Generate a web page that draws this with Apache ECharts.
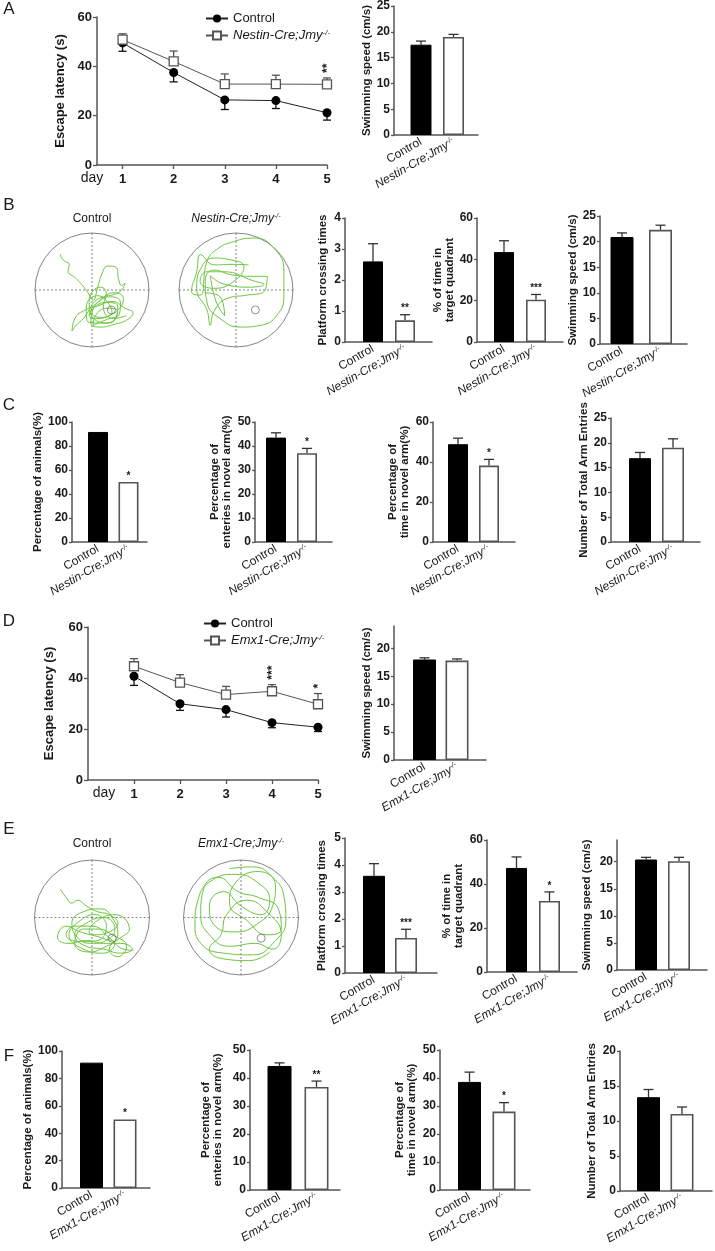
<!DOCTYPE html>
<html>
<head>
<meta charset="utf-8">
<script src="https://cdn.jsdelivr.net/npm/echarts@6/dist/echarts.min.js"></script>
<style>
  html, body { margin: 0; padding: 0; background: #fff; }
  #main { width: 715px; height: 1251px; }
</style>
</head>
<body>
<div id="main"></div>
<script>
// ---- data ----
const days = [1, 2, 3, 4, 5];
const groupNestin = ['Control', 'Nestin-Cre;Jmy'];
const groupEmx1 = ['Control', 'Emx1-Cre;Jmy'];
const speedTicks = [0, 5, 10, 15, 20];

// A
const aLatencyCtrl = [49.5, 37.5, 26.4, 26.1, 21.2];
const aLatencyCtrlSem = [3.4, 3.8, 3.9, 3.2, 3.0];
const aLatencyKo = [50.8, 42.0, 32.8, 32.8, 32.7];
const aLatencyKoSem = [2.4, 4.2, 4.1, 3.6, 2.6];
const aLatencyStars = ['', '', '', '', '**'];
const aSpeed = [17.5, 19.0];
const aSpeedSem = [0.7, 0.5];

// B
const bCrossing = [2.6, 0.7];
const bCrossingSem = [0.57, 0.18];
const bCrossingStars = ['', '**'];
const bQuadrant = [43.5, 20.5];
const bQuadrantSem = [5.5, 2.5];
const bQuadrantStars = ['', '***'];
const bSpeed = [20.9, 22.3];
const bSpeedSem = [0.8, 0.9];
const bTrackCtrl = [[-0.56,0.63],[-0.5,0.52],[-0.4,0.45],[-0.42,0.33],[-0.3,0.22],[-0.2,0.12],[-0.12,0.02],[-0.05,-0.08],[0.02,-0.18],[0.1,0.05],[0.18,0.3],[0.28,0.42],[0.42,0.4],[0.47,0.18],[0.52,0.08],[0.58,0.12],[0.52,0.0],[0.38,-0.08],[0.2,-0.12],[0.05,-0.2],[-0.05,-0.35],[-0.15,-0.5],[-0.28,-0.62],[-0.35,-0.72],[-0.3,-0.5],[-0.12,-0.35],[0.1,-0.28],[0.35,-0.2],[0.58,-0.32],[0.72,-0.4],[0.62,-0.52],[0.4,-0.6],[0.15,-0.65],[-0.02,-0.58],[0.0,-0.4],[0.18,-0.15],[0.4,-0.05],[0.55,-0.15],[0.5,-0.3],[0.3,-0.45],[0.08,-0.5],[-0.05,-0.45],[0.05,-0.3],[0.25,-0.22],[0.45,-0.28],[0.42,-0.48],[0.2,-0.58],[-0.08,-0.55],[-0.1,-0.3],[0.1,-0.1],[0.3,-0.25],[0.35,-0.4],[0.15,-0.48],[-0.02,-0.38],[0.12,-0.2],[0.32,-0.12],[0.5,-0.22],[0.48,-0.42],[0.25,-0.52],[0.02,-0.62],[0.08,-0.42],[0.28,-0.32],[0.45,-0.38],[0.3,-0.58],[0.05,-0.52],[-0.05,-0.2],[0.15,0.05],[0.25,-0.05],[0.2,-0.3],[0.38,-0.5],[0.6,-0.45]];
const bTrackKo = [[0.22,0.44],[-0.05,0.45],[-0.38,0.44],[-0.62,0.62],[-0.69,0.32],[-0.78,-0.03],[-0.63,-0.09],[-0.51,0.5],[-0.34,0.71],[-0.04,0.85],[0.31,0.91],[0.66,0.74],[0.84,0.32],[0.84,-0.09],[0.72,-0.44],[0.43,-0.62],[0.08,-0.65],[-0.28,-0.5],[-0.51,-0.21],[-0.54,0.15],[-0.39,0.35],[-0.04,0.26],[0.31,0.24],[0.55,0.24],[0.49,-0.03],[0.19,-0.09],[-0.16,-0.15],[-0.39,-0.38],[-0.45,-0.62],[-0.51,-0.35],[-0.69,0.03],[-0.6,0.41],[-0.39,0.56],[-0.1,0.53],[0.14,0.41],[-0.04,0.15],[-0.39,0.03],[-0.63,0.15],[-0.51,0.32],[-0.22,0.32],[0.31,0.16],[0.49,0.1],[0.25,0.05],[-0.2,0.1],[-0.45,0.25],[-0.35,-0.2],[-0.2,-0.45],[-0.3,-0.1],[-0.55,-0.05]];
const bPlatform = [[0.34, -0.35]];

// C
const cAnimals = [91.7, 50];
const cAnimalsStars = ['', '*'];
const cEntries = [43.5, 37.0];
const cEntriesSem = [2.0, 2.0];
const cEntriesStars = ['', '*'];
const cTime = [48.9, 38.2];
const cTimeSem = [3.0, 3.1];
const cTimeStars = ['', '*'];
const cTotal = [16.9, 19.0];
const cTotalSem = [1.15, 1.8];

// D
const dLatencyCtrl = [40.7, 29.9, 27.6, 22.5, 20.7];
const dLatencyCtrlSem = [3.6, 2.6, 2.9, 2.0, 1.7];
const dLatencyKo = [44.6, 38.2, 33.5, 34.8, 29.7];
const dLatencyKoSem = [3.0, 3.1, 3.2, 2.6, 4.2];
const dLatencyStars = ['', '', '', '***', '*'];
const dSpeed = [18.0, 17.8];
const dSpeedSem = [0.3, 0.3];

// E
const eCrossing = [3.6, 1.3];
const eCrossingSem = [0.45, 0.32];
const eCrossingStars = ['', '***'];
const eQuadrant = [47.3, 32.3];
const eQuadrantSem = [5.0, 4.1];
const eQuadrantStars = ['', '*'];
const eSpeed = [20.4, 20.1];
const eSpeedSem = [0.4, 0.7];
const eTrackCtrl = [[-0.55,0.49],[-0.45,0.35],[-0.35,0.25],[-0.25,0.3],[-0.1,0.2],[0.1,0.1],[0.3,0.05],[0.45,-0.1],[0.3,-0.25],[0.05,-0.3],[-0.2,-0.25],[-0.45,-0.15],[-0.6,-0.35],[-0.4,-0.45],[-0.1,-0.4],[0.2,-0.45],[0.5,-0.45],[0.7,-0.55],[0.5,-0.62],[0.2,-0.55],[-0.1,-0.5],[-0.3,-0.3],[-0.1,-0.1],[0.2,0.0],[0.4,-0.2],[0.25,-0.4],[0.0,-0.45],[-0.25,-0.35],[-0.35,-0.1],[-0.15,0.1],[0.15,0.15],[0.35,0.0],[0.45,-0.3],[0.3,-0.55],[0.45,-0.68],[0.6,-0.5],[0.35,-0.3],[0.1,-0.2],[-0.15,-0.2],[-0.3,-0.45],[-0.05,-0.6],[0.25,-0.5],[0.5,-0.35],[0.65,-0.2],[0.4,0.05],[0.1,-0.05],[-0.05,-0.25],[0.15,-0.35],[0.4,-0.45],[0.2,-0.62],[-0.15,-0.55],[-0.4,-0.3],[-0.2,-0.05],[0.05,0.05],[0.25,-0.15],[0.1,-0.4],[-0.2,-0.42],[-0.45,-0.3],[-0.3,-0.15],[0.0,-0.15],[0.3,-0.35],[0.55,-0.55],[0.72,-0.57]];
const eTrackKo = [[-0.2,0.85],[0.2,0.88],[0.55,0.7],[0.75,0.35],[0.78,-0.05],[0.6,-0.4],[0.2,-0.65],[-0.3,-0.62],[-0.7,-0.45],[-0.8,-0.1],[-0.75,0.3],[-0.5,0.65],[-0.1,0.75],[0.3,0.6],[0.5,0.3],[0.35,0.05],[0.0,0.2],[-0.3,0.45],[-0.55,0.2],[-0.45,-0.15],[-0.1,-0.25],[0.3,-0.1],[0.55,0.2],[0.6,0.55],[0.3,0.8],[-0.1,0.6],[-0.2,0.25],[0.1,-0.05],[0.45,-0.3],[0.7,-0.2],[0.65,0.15],[0.3,0.35],[-0.05,0.45],[-0.4,0.7],[-0.65,0.5],[-0.7,0.05],[-0.55,-0.3],[-0.2,-0.5],[0.25,-0.45],[0.55,-0.55],[0.7,-0.3],[0.45,0.1],[0.1,0.3],[-0.25,0.05],[-0.35,-0.3],[-0.55,-0.55],[-0.3,-0.72],[0.15,-0.75],[0.5,-0.6]];
const ePlatform = [[0.35, -0.36]];

// F
const fAnimals = [91.5, 50];
const fAnimalsStars = ['', '*'];
const fEntries = [44.3, 36.8];
const fEntriesSem = [1.1, 2.1];
const fEntriesStars = ['', '**'];
const fTime = [38.6, 28.0];
const fTimeSem = [3.5, 3.2];
const fTimeStars = ['', '*'];
const fTotal = [13.4, 11.0];
const fTotalSem = [1.1, 1.0];

// ---- styles ----
const FONT = '"Liberation Sans", Arial, Helvetica, sans-serif';
const INK = '#1a1a1a';
const AXIS = '#555';
const GREEN = '#6cc63f';

const grids = [], xAxes = [], yAxes = [], series = [];
const polars = [], angleAxes = [], radiusAxes = [], legends = [], graphics = [];

function koRich(size) {
  return {
    n: { fontSize: size, fontFamily: FONT, color: INK },
    i: { fontSize: size, fontFamily: FONT, color: INK, fontStyle: 'italic' },
    s: { fontSize: Math.round(size * 0.62), fontFamily: FONT, color: INK, fontStyle: 'italic', verticalAlign: 'top' }
  };
}
const koText = name => `{i|${name}}{s|-/-}`;

function errorSeries(gi, data, stars, capHalf, color, starFont, rotateStar) {
  series.push({
    type: 'custom', xAxisIndex: gi, yAxisIndex: gi, z: 2, silent: true,
    data: data,
    renderItem: function (params, api) {
      const x = api.value(0), v = api.value(1), t = api.value(2);
      const base = api.coord([x, v]);
      const tip = api.coord([x, t]);
      const children = [];
      if (t !== v) {
        children.push({ type: 'line', shape: { x1: base[0], y1: base[1], x2: tip[0], y2: tip[1] }, style: { stroke: color, lineWidth: 1.3 } });
        children.push({ type: 'line', shape: { x1: tip[0] - capHalf, y1: tip[1], x2: tip[0] + capHalf, y2: tip[1] }, style: { stroke: color, lineWidth: 1.3 } });
      }
      const s = stars ? stars[params.dataIndex] : '';
      if (s) {
        if (rotateStar) {
          children.push({ type: 'text', x: tip[0] + 1, y: tip[1] - 5, rotation: Math.PI / 2,
            style: { text: s, fill: INK, font: starFont, align: 'left', verticalAlign: 'middle' } });
        } else {
          children.push({ type: 'text', x: tip[0], y: tip[1] - 1,
            style: { text: s, fill: INK, font: starFont, align: 'center', verticalAlign: 'bottom' } });
        }
      }
      return { type: 'group', children: children };
    }
  });
}

function addBarPanel(p) {
  const gi = grids.length;
  const unit = p.c2 - p.c1;
  grids.push({ left: p.axisX, top: p.top, width: p.xEnd - p.axisX, height: p.y0 - p.top });
  xAxes.push({
    gridIndex: gi, type: 'value',
    min: 1 - (p.c1 - p.axisX) / unit, max: 2 + (p.xEnd - p.c2) / unit,
    axisLine: { lineStyle: { color: AXIS, width: 1.5 } },
    axisTick: { show: false }, splitLine: { show: false },
    axisLabel: {
      customValues: [1, 2], rotate: 30, margin: 6, fontSize: 12, color: INK,
      formatter: v => v === 1 ? `{n|${p.groups[0]}}` : koText(p.groups[1]),
      rich: koRich(12)
    }
  });
  const yLabel = { fontSize: 12, fontWeight: 'bold', color: INK, margin: 4, fontFamily: FONT };
  const yTick = { show: true, length: 3, lineStyle: { color: AXIS, width: 1.3 } };
  if (p.ticks) { yLabel.customValues = p.ticks; yTick.customValues = p.ticks; }
  yAxes.push({
    gridIndex: gi, type: 'value', min: 0, max: p.max, interval: p.interval,
    name: p.name, nameLocation: 'middle', nameGap: p.nameGap,
    nameTextStyle: { fontSize: 11.5, fontWeight: 'bold', color: INK, lineHeight: 12, fontFamily: FONT },
    axisLine: { show: true, lineStyle: { color: AXIS, width: 1.5 } },
    axisTick: yTick, axisLabel: yLabel, splitLine: { show: false }
  });
  series.push({
    type: 'bar', xAxisIndex: gi, yAxisIndex: gi, barWidth: p.barWidth, z: 3, silent: true,
    data: p.values.map((v, i) => ({
      value: [i + 1, v],
      itemStyle: i === 0
        ? { color: '#000', borderColor: '#000', borderWidth: 1 }
        : { color: '#fff', borderColor: '#555', borderWidth: 1.6 }
    }))
  });
  const sem = p.sem || p.values.map(() => 0);
  errorSeries(gi, p.values.map((v, i) => [i + 1, v, v + sem[i]]), p.stars, p.capHalf || 5, '#333', 'bold 10px ' + FONT, false);
}

function addLinePanel(p) {
  const gi = grids.length;
  grids.push({ left: p.axisX, top: p.top, width: p.xEnd - p.axisX, height: p.y0 - p.top });
  xAxes.push({
    gridIndex: gi, type: 'value', min: p.xMin, max: 5,
    axisLine: { lineStyle: { color: AXIS, width: 1.5 } },
    axisTick: { customValues: days, length: 4, lineStyle: { color: AXIS, width: 1.3 } },
    axisLabel: { customValues: days, fontSize: 13, fontWeight: 'bold', color: INK, margin: 8 },
    splitLine: { show: false }
  });
  yAxes.push({
    gridIndex: gi, type: 'value', min: 0, max: 60, interval: 20,
    name: 'Escape latency (s)', nameLocation: 'middle', nameGap: p.nameGap,
    nameTextStyle: { fontSize: 13, fontWeight: 'bold', color: INK },
    axisLine: { show: true, lineStyle: { color: AXIS, width: 1.5 } },
    axisTick: { show: true, length: 4, lineStyle: { color: AXIS, width: 1.3 } },
    axisLabel: { fontSize: 13, fontWeight: 'bold', color: INK, margin: 5 },
    splitLine: { show: false }
  });
  errorSeries(gi, days.map((d, i) => [d, p.ctrl[i], p.ctrl[i] - p.ctrlSem[i]]), null, 4, '#111', '', false);
  errorSeries(gi, days.map((d, i) => [d, p.ko[i], p.ko[i] + p.koSem[i]]), p.stars, 4, '#555', 'bold 12px ' + FONT, true);
  series.push({
    name: 'Control', type: 'line', xAxisIndex: gi, yAxisIndex: gi, z: 4, silent: true,
    data: days.map((d, i) => [d, p.ctrl[i]]),
    symbol: 'circle', symbolSize: 9,
    itemStyle: { color: '#000' }, lineStyle: { color: '#222', width: 1 }
  });
  series.push({
    name: p.koName, type: 'line', xAxisIndex: gi, yAxisIndex: gi, z: 5, silent: true,
    data: days.map((d, i) => [d, p.ko[i]]),
    symbol: 'rect', symbolSize: 9,
    itemStyle: { color: '#fff', borderColor: '#555', borderWidth: 1.3 },
    lineStyle: { color: '#555', width: 1 }
  });
  legends.push({
    data: ['Control', p.koName], left: p.legendLeft, top: p.legendTop, orient: 'vertical',
    itemGap: 4, itemWidth: 22, itemHeight: 10, selectedMode: false,
    textStyle: { fontSize: 13, color: INK, rich: koRich(13) },
    formatter: n => n === 'Control' ? `{n|${n}}` : koText(n)
  });
}

function addTrackPanel(p) {
  const pi = polars.length;
  polars.push({ center: [p.cx, p.cy], radius: p.r });
  angleAxes.push({
    polarIndex: pi, type: 'value', min: 0, max: 360, interval: 90, startAngle: 90,
    axisLine: { lineStyle: { color: '#666', width: 0.8 } },
    axisTick: { show: false }, axisLabel: { show: false },
    splitLine: { show: true, lineStyle: { color: '#666', width: 0.8, type: [2, 2] } }
  });
  radiusAxes.push({
    polarIndex: pi, type: 'value', min: 0, max: 1,
    axisLine: { show: false }, axisTick: { show: false }, axisLabel: { show: false }, splitLine: { show: false }
  });
  const gi = grids.length;
  grids.push({ left: p.cx - p.r, top: p.cy - p.r, width: 2 * p.r, height: 2 * p.r });
  xAxes.push({ gridIndex: gi, type: 'value', min: -1, max: 1, show: false });
  yAxes.push({ gridIndex: gi, type: 'value', min: -1, max: 1, show: false });
  series.push({
    type: 'line', xAxisIndex: gi, yAxisIndex: gi, data: p.track, smooth: 0.5,
    showSymbol: false, silent: true, lineStyle: { color: GREEN, width: 1 }, z: 3
  });
  series.push({
    type: 'scatter', xAxisIndex: gi, yAxisIndex: gi, data: p.platform, symbol: 'circle', symbolSize: 8,
    silent: true, itemStyle: { color: 'rgba(0,0,0,0)', borderColor: '#555', borderWidth: 0.8 }, z: 4
  });
  graphics.push({
    type: 'text', x: p.cx, y: p.titleY,
    style: { text: p.title, font: '12px ' + FONT, fill: INK, align: 'center', verticalAlign: 'middle', rich: koRich(12) }
  });
}

function addText(text, x, y, size) {
  graphics.push({ type: 'text', x: x, y: y, style: { text: text, font: size + 'px ' + FONT, fill: INK, align: 'center', verticalAlign: 'middle' } });
}

// ---- A ----
addLinePanel({ ctrl: aLatencyCtrl, ctrlSem: aLatencyCtrlSem, ko: aLatencyKo, koSem: aLatencyKoSem, stars: aLatencyStars,
  koName: groupNestin[1], axisX: 97, xEnd: 327, top: 17, y0: 165, xMin: 0.5, nameGap: 30, legendLeft: 200, legendTop: 7 });
addBarPanel({ values: aSpeed, sem: aSpeedSem, groups: groupNestin, name: 'Swimming speed (cm/s)',
  max: 25, interval: 5, axisX: 394, xEnd: 478, top: 5, y0: 135, c1: 421, c2: 453.5, barWidth: 21, nameGap: 20 });

// ---- B ----
addTrackPanel({ cx: 92, cy: 290, r: 57, track: bTrackCtrl, platform: bPlatform, title: '{n|Control}', titleY: 219 });
addTrackPanel({ cx: 236, cy: 290, r: 57, track: bTrackKo, platform: bPlatform, title: koText(groupNestin[1]), titleY: 219 });
addBarPanel({ values: bCrossing, sem: bCrossingSem, stars: bCrossingStars, groups: groupNestin, name: 'Platform crossing times',
  max: 4, interval: 1, axisX: 345, xEnd: 432, top: 218, y0: 342, c1: 373, c2: 405, barWidth: 20, nameGap: 16 });
addBarPanel({ values: bQuadrant, sem: bQuadrantSem, stars: bQuadrantStars, groups: groupNestin, name: '% of time in\ntarget quadrant',
  max: 60, interval: 20, axisX: 477, xEnd: 563, top: 218, y0: 342, c1: 504, c2: 536, barWidth: 20, nameGap: 16 });
addBarPanel({ values: bSpeed, sem: bSpeedSem, groups: groupNestin, name: 'Swimming speed (cm/s)',
  max: 25, interval: 5, axisX: 600, xEnd: 687, top: 216, y0: 344, c1: 622, c2: 660.5, barWidth: 23, nameGap: 17 });

// ---- C ----
addBarPanel({ values: cAnimals, stars: cAnimalsStars, groups: groupNestin, name: 'Percentage of animals(%)',
  max: 100, interval: 20, axisX: 72, xEnd: 147, top: 422, y0: 542, c1: 98, c2: 128.5, barWidth: 20, nameGap: 25 });
addBarPanel({ values: cEntries, sem: cEntriesSem, stars: cEntriesStars, groups: groupNestin, name: 'Percentage of\nenteries in novel arm(%)',
  max: 50, interval: 10, axisX: 255, xEnd: 332, top: 422, y0: 542, c1: 276, c2: 307, barWidth: 20, nameGap: 22 });
addBarPanel({ values: cTime, sem: cTimeSem, stars: cTimeStars, groups: groupNestin, name: 'Percentage of\ntime in novel arm(%)',
  max: 60, interval: 20, axisX: 433, xEnd: 515, top: 422, y0: 542, c1: 458, c2: 489, barWidth: 20, nameGap: 22 });
addBarPanel({ values: cTotal, sem: cTotalSem, groups: groupNestin, name: 'Number of Total Arm Entries',
  max: 25, interval: 5, axisX: 611, xEnd: 700, top: 418, y0: 542, c1: 640, c2: 673, barWidth: 22, nameGap: 21 });

// ---- D ----
addLinePanel({ ctrl: dLatencyCtrl, ctrlSem: dLatencyCtrlSem, ko: dLatencyKo, koSem: dLatencyKoSem, stars: dLatencyStars,
  koName: groupEmx1[1], axisX: 88, xEnd: 318, top: 627, y0: 780, xMin: 0, nameGap: 32, legendLeft: 198, legendTop: 612 });
addBarPanel({ values: dSpeed, sem: dSpeedSem, groups: groupEmx1, name: 'Swimming speed (cm/s)', ticks: speedTicks,
  max: 24, interval: 5, axisX: 394, xEnd: 486, top: 626, y0: 760, c1: 424.5, c2: 457, barWidth: 23, nameGap: 21 });

// ---- E ----
addTrackPanel({ cx: 92, cy: 917.5, r: 57.5, track: eTrackCtrl, platform: ePlatform, title: '{n|Control}', titleY: 844 });
addTrackPanel({ cx: 241, cy: 917.5, r: 57.5, track: eTrackKo, platform: ePlatform, title: koText(groupEmx1[1]), titleY: 844 });
addBarPanel({ values: eCrossing, sem: eCrossingSem, stars: eCrossingStars, groups: groupEmx1, name: 'Platform crossing times',
  max: 5, interval: 1, axisX: 345, xEnd: 437, top: 838, y0: 973, c1: 374, c2: 406, barWidth: 22, nameGap: 17 });
addBarPanel({ values: eQuadrant, sem: eQuadrantSem, stars: eQuadrantStars, groups: groupEmx1, name: '% of time in\ntarget quadrant',
  max: 60, interval: 20, axisX: 487, xEnd: 577, top: 840, y0: 972, c1: 516.5, c2: 549.5, barWidth: 21, nameGap: 22 });
addBarPanel({ values: eSpeed, sem: eSpeedSem, groups: groupEmx1, name: 'Swimming speed (cm/s)', ticks: speedTicks,
  max: 24, interval: 5, axisX: 617, xEnd: 707, top: 840, y0: 970, c1: 646, c2: 679, barWidth: 22, nameGap: 24 });

// ---- F ----
addBarPanel({ values: fAnimals, stars: fAnimalsStars, groups: groupEmx1, name: 'Percentage of animals(%)',
  max: 100, interval: 20, axisX: 62, xEnd: 150, top: 1051, y0: 1188, c1: 91.5, c2: 125, barWidth: 23, nameGap: 27 });
addBarPanel({ values: fEntries, sem: fEntriesSem, stars: fEntriesStars, groups: groupEmx1, name: 'Percentage of\nenteries in novel arm(%)',
  max: 50, interval: 10, axisX: 250, xEnd: 340, top: 1050, y0: 1190, c1: 279.5, c2: 316.5, barWidth: 24, nameGap: 26 });
addBarPanel({ values: fTime, sem: fTimeSem, stars: fTimeStars, groups: groupEmx1, name: 'Percentage of\ntime in novel arm(%)',
  max: 50, interval: 10, axisX: 440, xEnd: 530, top: 1050, y0: 1190, c1: 469.5, c2: 504, barWidth: 23, nameGap: 22 });
addBarPanel({ values: fTotal, sem: fTotalSem, groups: groupEmx1, name: 'Number of Total Arm Entries',
  max: 20, interval: 5, axisX: 620, xEnd: 712, top: 1051, y0: 1191, c1: 648.5, c2: 682, barWidth: 23, nameGap: 22 });

// ---- free text ----
addText('A', 9, 9, 17);
addText('B', 9, 205, 17);
addText('C', 9, 405, 17);
addText('D', 9, 621, 17);
addText('E', 9, 829, 17);
addText('F', 9, 1056, 17);
addText('day', 92, 178, 14);
addText('day', 104, 793, 14);

const chart = echarts.init(document.getElementById('main'));
chart.setOption({
  animation: false,
  backgroundColor: '#fff',
  textStyle: { fontFamily: FONT },
  grid: grids,
  xAxis: xAxes,
  yAxis: yAxes,
  polar: polars,
  angleAxis: angleAxes,
  radiusAxis: radiusAxes,
  legend: legends,
  graphic: graphics,
  series: series
});
</script>
</body>
</html>
